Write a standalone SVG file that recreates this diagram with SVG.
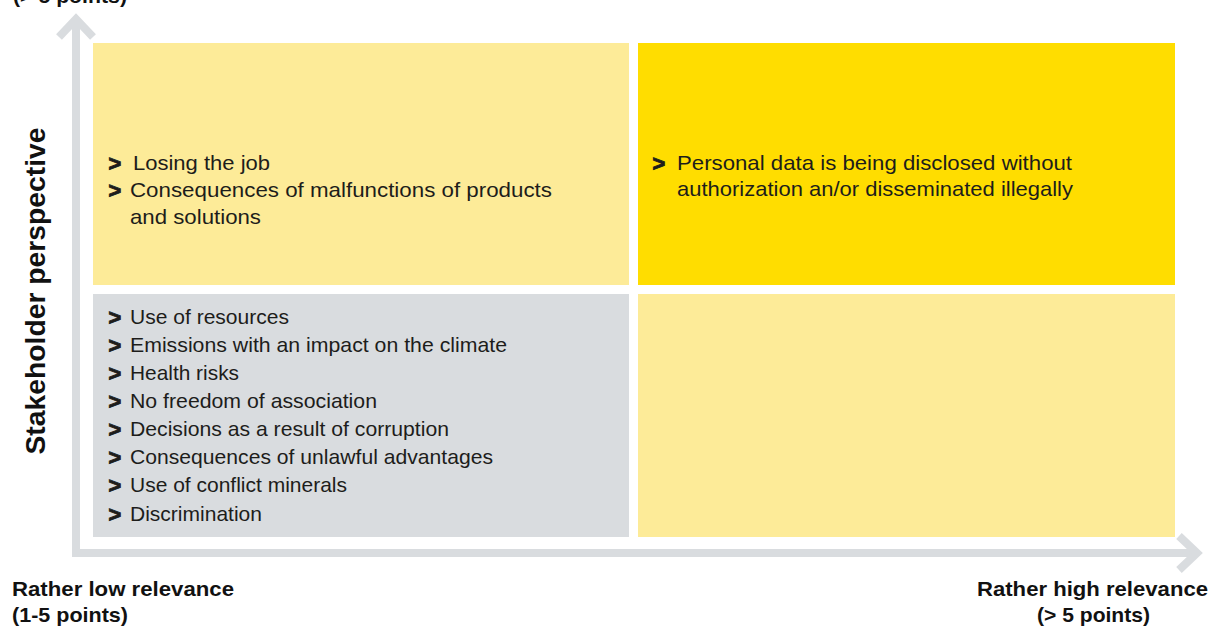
<svg xmlns="http://www.w3.org/2000/svg" width="1211" height="626" viewBox="0 0 1211 626">
<style>
.t{font-family:"Liberation Sans",Arial,sans-serif;font-size:21px;fill:#1d1d1b}
.bl{font-family:"Liberation Sans",Arial,sans-serif;font-size:22px;font-weight:bold;font-style:italic;fill:#1d1d1b;stroke:#1d1d1b;stroke-width:0.9}
.lbl{font-family:"Liberation Sans",Arial,sans-serif;font-size:20.5px;font-weight:bold;fill:#111}
.vl{font-family:"Liberation Sans",Arial,sans-serif;font-size:27px;font-weight:bold;fill:#111}
.axis{fill:none;stroke:#d9dcdf;stroke-width:8}
</style>
<rect width="1211" height="626" fill="#fff"/>
<g id="axes">
<path class="axis" d="M76 22 V553 H1194"/>
<path class="axis" d="M59 37 L76 19 L93 37"/>
<path class="axis" d="M1179 536 L1197 553 L1179 570"/>
</g>
<g id="q-top-left">
<rect x="93" y="43" width="536" height="242" fill="#fdeb98"/>
<text class="bl" x="108" y="171">&gt;</text><text class="t" x="133" y="170" textLength="137" lengthAdjust="spacingAndGlyphs">Losing the job</text>
<text class="bl" x="108" y="198">&gt;</text><text class="t" x="130" y="197" textLength="422" lengthAdjust="spacingAndGlyphs">Consequences of malfunctions of products</text>
<text class="t" x="130" y="224" textLength="131" lengthAdjust="spacingAndGlyphs">and solutions</text>
</g>
<g id="q-top-right">
<rect x="638" y="43" width="537" height="242" fill="#ffdd00"/>
<text class="bl" x="652" y="171">&gt;</text><text class="t" x="677" y="170" textLength="395" lengthAdjust="spacingAndGlyphs">Personal data is being disclosed without</text>
<text class="t" x="677" y="196" textLength="396" lengthAdjust="spacingAndGlyphs">authorization an/or disseminated illegally</text>
</g>
<g id="q-bottom-left">
<rect x="93" y="294" width="536" height="243" fill="#d9dcdf"/>
<text class="bl" x="108" y="325">&gt;</text><text class="t" x="130" y="324" textLength="159" lengthAdjust="spacingAndGlyphs">Use of resources</text>
<text class="bl" x="108" y="353">&gt;</text><text class="t" x="130" y="352" textLength="377" lengthAdjust="spacingAndGlyphs">Emissions with an impact on the climate</text>
<text class="bl" x="108" y="381">&gt;</text><text class="t" x="130" y="380" textLength="109" lengthAdjust="spacingAndGlyphs">Health risks</text>
<text class="bl" x="108" y="409">&gt;</text><text class="t" x="130" y="408" textLength="247" lengthAdjust="spacingAndGlyphs">No freedom of association</text>
<text class="bl" x="108" y="437">&gt;</text><text class="t" x="130" y="436" textLength="319" lengthAdjust="spacingAndGlyphs">Decisions as a result of corruption</text>
<text class="bl" x="108" y="465">&gt;</text><text class="t" x="130" y="464" textLength="363" lengthAdjust="spacingAndGlyphs">Consequences of unlawful advantages</text>
<text class="bl" x="108" y="493">&gt;</text><text class="t" x="130" y="492" textLength="217" lengthAdjust="spacingAndGlyphs">Use of conflict minerals</text>
<text class="bl" x="108" y="522">&gt;</text><text class="t" x="130" y="521" textLength="132" lengthAdjust="spacingAndGlyphs">Discrimination</text>
</g>
<g id="q-bottom-right">
<rect x="638" y="294" width="537" height="243" fill="#fdeb98"/>
</g>
<g id="labels">
<text class="lbl" x="13" y="3" textLength="114" lengthAdjust="spacingAndGlyphs">(&gt; 5 points)</text>
<text class="vl" transform="translate(45 291) rotate(-90)" text-anchor="middle" textLength="327" lengthAdjust="spacingAndGlyphs">Stakeholder perspective</text>
<text class="lbl" x="12" y="596" textLength="222" lengthAdjust="spacingAndGlyphs">Rather low relevance</text>
<text class="lbl" x="12" y="622" textLength="116" lengthAdjust="spacingAndGlyphs">(1-5 points)</text>
<text class="lbl" x="977" y="596" textLength="231" lengthAdjust="spacingAndGlyphs">Rather high relevance</text>
<text class="lbl" x="1037" y="622" textLength="113" lengthAdjust="spacingAndGlyphs">(&gt; 5 points)</text>
</g>
</svg>
